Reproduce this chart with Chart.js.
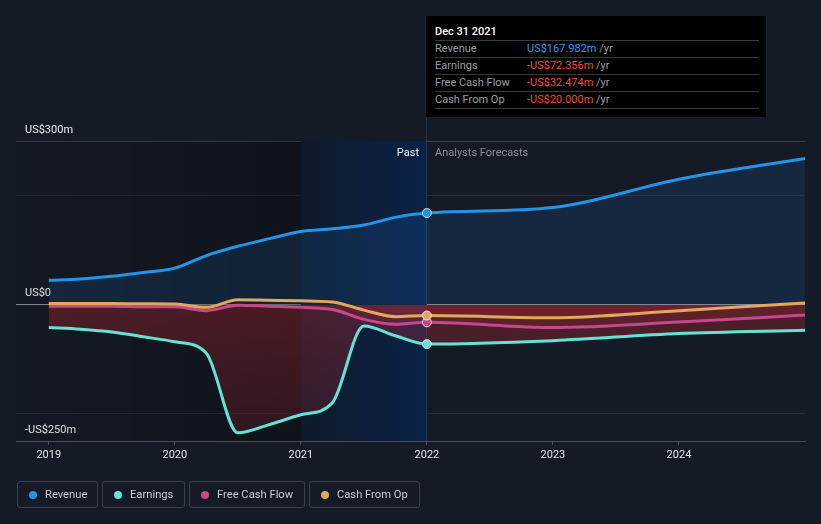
<!DOCTYPE html>
<html>
<head>
<meta charset="utf-8">
<script src="https://cdn.jsdelivr.net/npm/chart.js@4"></script>
<style>
  html,body{margin:0;padding:0;background:#151b26;width:821px;height:524px;overflow:hidden;font-family:Roboto,"Noto Sans",sans-serif;}
  #wrap{position:relative;width:821px;height:524px;}
  canvas{position:absolute;left:0;top:0;}
  .ov{position:absolute;white-space:nowrap;font-size:11px;}
  #tip{position:absolute;left:426px;top:16px;width:340px;height:101px;background:#000;}
  #tip .t{position:absolute;left:9px;top:9px;color:#fff;font-size:11px;font-weight:500;}
  #tip .sep{position:absolute;left:9px;width:324px;height:1px;background:#3a3a3a;}
  #tip .l{position:absolute;left:9px;color:#9a9ea4;font-size:11px;}
  #tip .v{position:absolute;left:101px;font-size:11px;}
  .leg{position:absolute;top:481px;height:27px;border:1px solid #3b4049;border-radius:3px;box-sizing:border-box;color:#c9ccd1;font-size:11.2px;}
  .leg .d{position:absolute;left:11px;top:8.5px;width:8px;height:8px;border-radius:50%;}
  .leg .tx{position:absolute;left:27px;top:6px;}
</style>
</head>
<body>
<div id="wrap">
  <canvas id="c" width="821" height="524"></canvas>
  <div class="ov" style="left:372px;top:146px;width:47px;text-align:right;color:#f2f2f2;">Past</div>
  <div class="ov" style="left:435px;top:146px;color:#8b8f96;">Analysts Forecasts</div>
  <div id="tip">
    <div class="t">Dec 31 2021</div>
    <div class="sep" style="top:24px"></div>
    <div class="l" style="top:26px">Revenue</div><div class="v" style="top:26px;color:#2f9bf0">US$167.982m <span style="color:#9a9ea4">/yr</span></div>
    <div class="sep" style="top:41px"></div>
    <div class="l" style="top:43px">Earnings</div><div class="v" style="top:43px;color:#f04a3f">-US$72.356m <span style="color:#9a9ea4">/yr</span></div>
    <div class="sep" style="top:58px"></div>
    <div class="l" style="top:60px">Free Cash Flow</div><div class="v" style="top:60px;color:#f04a3f">-US$32.474m <span style="color:#9a9ea4">/yr</span></div>
    <div class="sep" style="top:75px"></div>
    <div class="l" style="top:77px">Cash From Op</div><div class="v" style="top:77px;color:#f04a3f">-US$20.000m <span style="color:#9a9ea4">/yr</span></div>
    <div class="sep" style="top:92px"></div>
  </div>
  <div class="leg" style="left:17px;width:81px;"><div class="d" style="background:#2394e8"></div><div class="tx">Revenue</div></div>
  <div class="leg" style="left:102px;width:83px;"><div class="d" style="background:#64e3d4"></div><div class="tx">Earnings</div></div>
  <div class="leg" style="left:189px;width:116px;"><div class="d" style="background:#c5488a"></div><div class="tx">Free Cash Flow</div></div>
  <div class="leg" style="left:309px;width:111px;"><div class="d" style="background:#e0a85c"></div><div class="tx">Cash From Op</div></div>
</div>
<script>
// ---- data (US$m, x in decimal years) ----
const periods   = [2019, 2019.25, 2019.5, 2019.75, 2020, 2020.25, 2020.5, 2020.75, 2021, 2021.25, 2021.5, 2021.75, 2022, 2023, 2024, 2025];
const revenue   = [44.5, 47, 52, 59, 67, 90, 107, 121, 134, 139, 146, 160, 167.982, 178, 230, 268];
const earnings  = [-42, -45, -50, -59, -68, -89, -235, -220, -202, -180, -39, -57, -72.356, -66, -53, -47];
const freeCash  = [-3, -3, -3, -4, -4, -11, -1, -3, -5, -9, -27, -36, -32.474, -42, -32, -19];
const cashOp    = [2, 2, 2, 1.5, 1, -5, 9, 8, 7, 5, -10, -22, -20, -24, -11, 3];
const xTicks    = [2019, 2020, 2021, 2022, 2023, 2024];
const yTicks    = [-250, -200, 0, 200, 300];
const yLabels   = {"300": "US$300m", "0": "US$0", "-250": "-US$250m"};
const pastStart = 2021, nowX = 2022;
const nowIndex  = periods.indexOf(nowX);

const toXY = arr => arr.map((v, i) => ({x: periods[i], y: v}));

const bgPlugin = {
  id: 'bg',
  beforeDatasetsDraw(chart) {
    const {ctx, chartArea: a, scales: {x}} = chart;
    const xs = x.getPixelForValue(pastStart), xn = x.getPixelForValue(nowX);
    ctx.save();
    let g = ctx.createLinearGradient(a.left, 0, xs, 0);
    g.addColorStop(0, 'rgba(0,0,0,0.05)');
    g.addColorStop(1, 'rgba(0,0,0,0.28)');
    ctx.fillStyle = g;
    ctx.fillRect(a.left, a.top, xs - a.left, a.bottom - a.top);
    g = ctx.createLinearGradient(xs, 0, xn, 0);
    g.addColorStop(0, '#0f1a29');
    g.addColorStop(1, '#0a2248');
    ctx.fillStyle = g;
    ctx.fillRect(xs, a.top, xn - xs, a.bottom - a.top);
    ctx.fillStyle = '#1c3356';
    ctx.fillRect(Math.round(xn) - 1, 117, 1, a.bottom - 117);
    ctx.restore();
  }
};

function redGrad(ctx, a0, a1) {
  const c = ctx.chart, a = c.chartArea;
  if (!a) return 'rgba(200,40,50,0.2)';
  const y = c.scales.y;
  const g = c.ctx.createLinearGradient(0, y.getPixelForValue(0), 0, a.bottom);
  g.addColorStop(0, `rgba(200,40,50,${a0})`);
  g.addColorStop(1, `rgba(200,40,50,${a1})`);
  return g;
}

const common = {
  borderWidth: 3,
  cubicInterpolationMode: 'monotone',
  pointRadius: ctx => ctx.dataIndex === nowIndex ? 4.5 : 0,
  pointHoverRadius: 0,
  pointBorderColor: 'rgba(255,255,255,0.75)',
  pointBorderWidth: 1,
};

new Chart(document.getElementById('c'), {
  type: 'line',
  data: {
    datasets: [
      {...common, label: 'Cash From Op', data: toXY(cashOp), borderColor: '#e0a85c', pointBackgroundColor: '#e0a85c',
        fill: {target: 'origin', above: 'rgba(0,0,0,0)', below: ctx => redGrad(ctx, 0.15, 0.06)}},
      {...common, label: 'Free Cash Flow', data: toXY(freeCash), borderColor: '#c5488a', pointBackgroundColor: '#c5488a',
        fill: {target: 'origin', above: 'rgba(0,0,0,0)', below: ctx => redGrad(ctx, 0.15, 0.06)}},
      {...common, label: 'Earnings', data: toXY(earnings), borderColor: '#64e3d4', pointBackgroundColor: '#64e3d4',
        fill: {target: 'origin', above: 'rgba(0,0,0,0)', below: ctx => redGrad(ctx, 0.32, 0.16)}},
      {...common, label: 'Revenue', data: toXY(revenue), borderColor: '#2394e8', pointBackgroundColor: '#2394e8',
        fill: {target: 'origin', above: 'rgba(35,120,210,0.15)', below: 'rgba(0,0,0,0)'}},
    ]
  },
  options: {
    responsive: false,
    animation: false,
    events: [],
    layout: {padding: {left: 16, right: 16, top: 141, bottom: 0}},
    plugins: {legend: {display: false}, tooltip: {enabled: false}},
    scales: {
      x: {
        type: 'linear', min: 2018.74, max: 2025.0,
        afterBuildTicks: s => { s.ticks = xTicks.map(v => ({value: v})); },
        afterFit: s => { s.height = 83; },
        ticks: {callback: v => String(v), color: '#e6e6e6', font: {family: 'Roboto', size: 11}, padding: 4, maxRotation: 0},
        grid: {drawOnChartArea: false, drawTicks: true, tickLength: 4, color: '#4a4f57'},
        border: {color: '#4a4f57', width: 1}
      },
      y: {
        type: 'linear', min: -250, max: 300,
        afterBuildTicks: s => { s.ticks = yTicks.map(v => ({value: v})); },
        afterFit: s => { s.width = 0; },
        ticks: {mirror: true, padding: 9, labelOffset: -11, callback: v => yLabels[String(v)] || '',
                color: '#eeeeee', font: {family: 'Roboto', size: 11}},
        grid: {
          drawTicks: false,
          color: ctx => { const v = ctx.tick && ctx.tick.value;
            return v === 0 ? '#8a8d92' : v === 300 ? '#3b4049' : v === -250 ? 'rgba(0,0,0,0)' : '#262b34'; },
          lineWidth: 1
        },
        border: {display: false}
      }
    }
  },
  plugins: [bgPlugin]
});
</script>
</body>
</html>
